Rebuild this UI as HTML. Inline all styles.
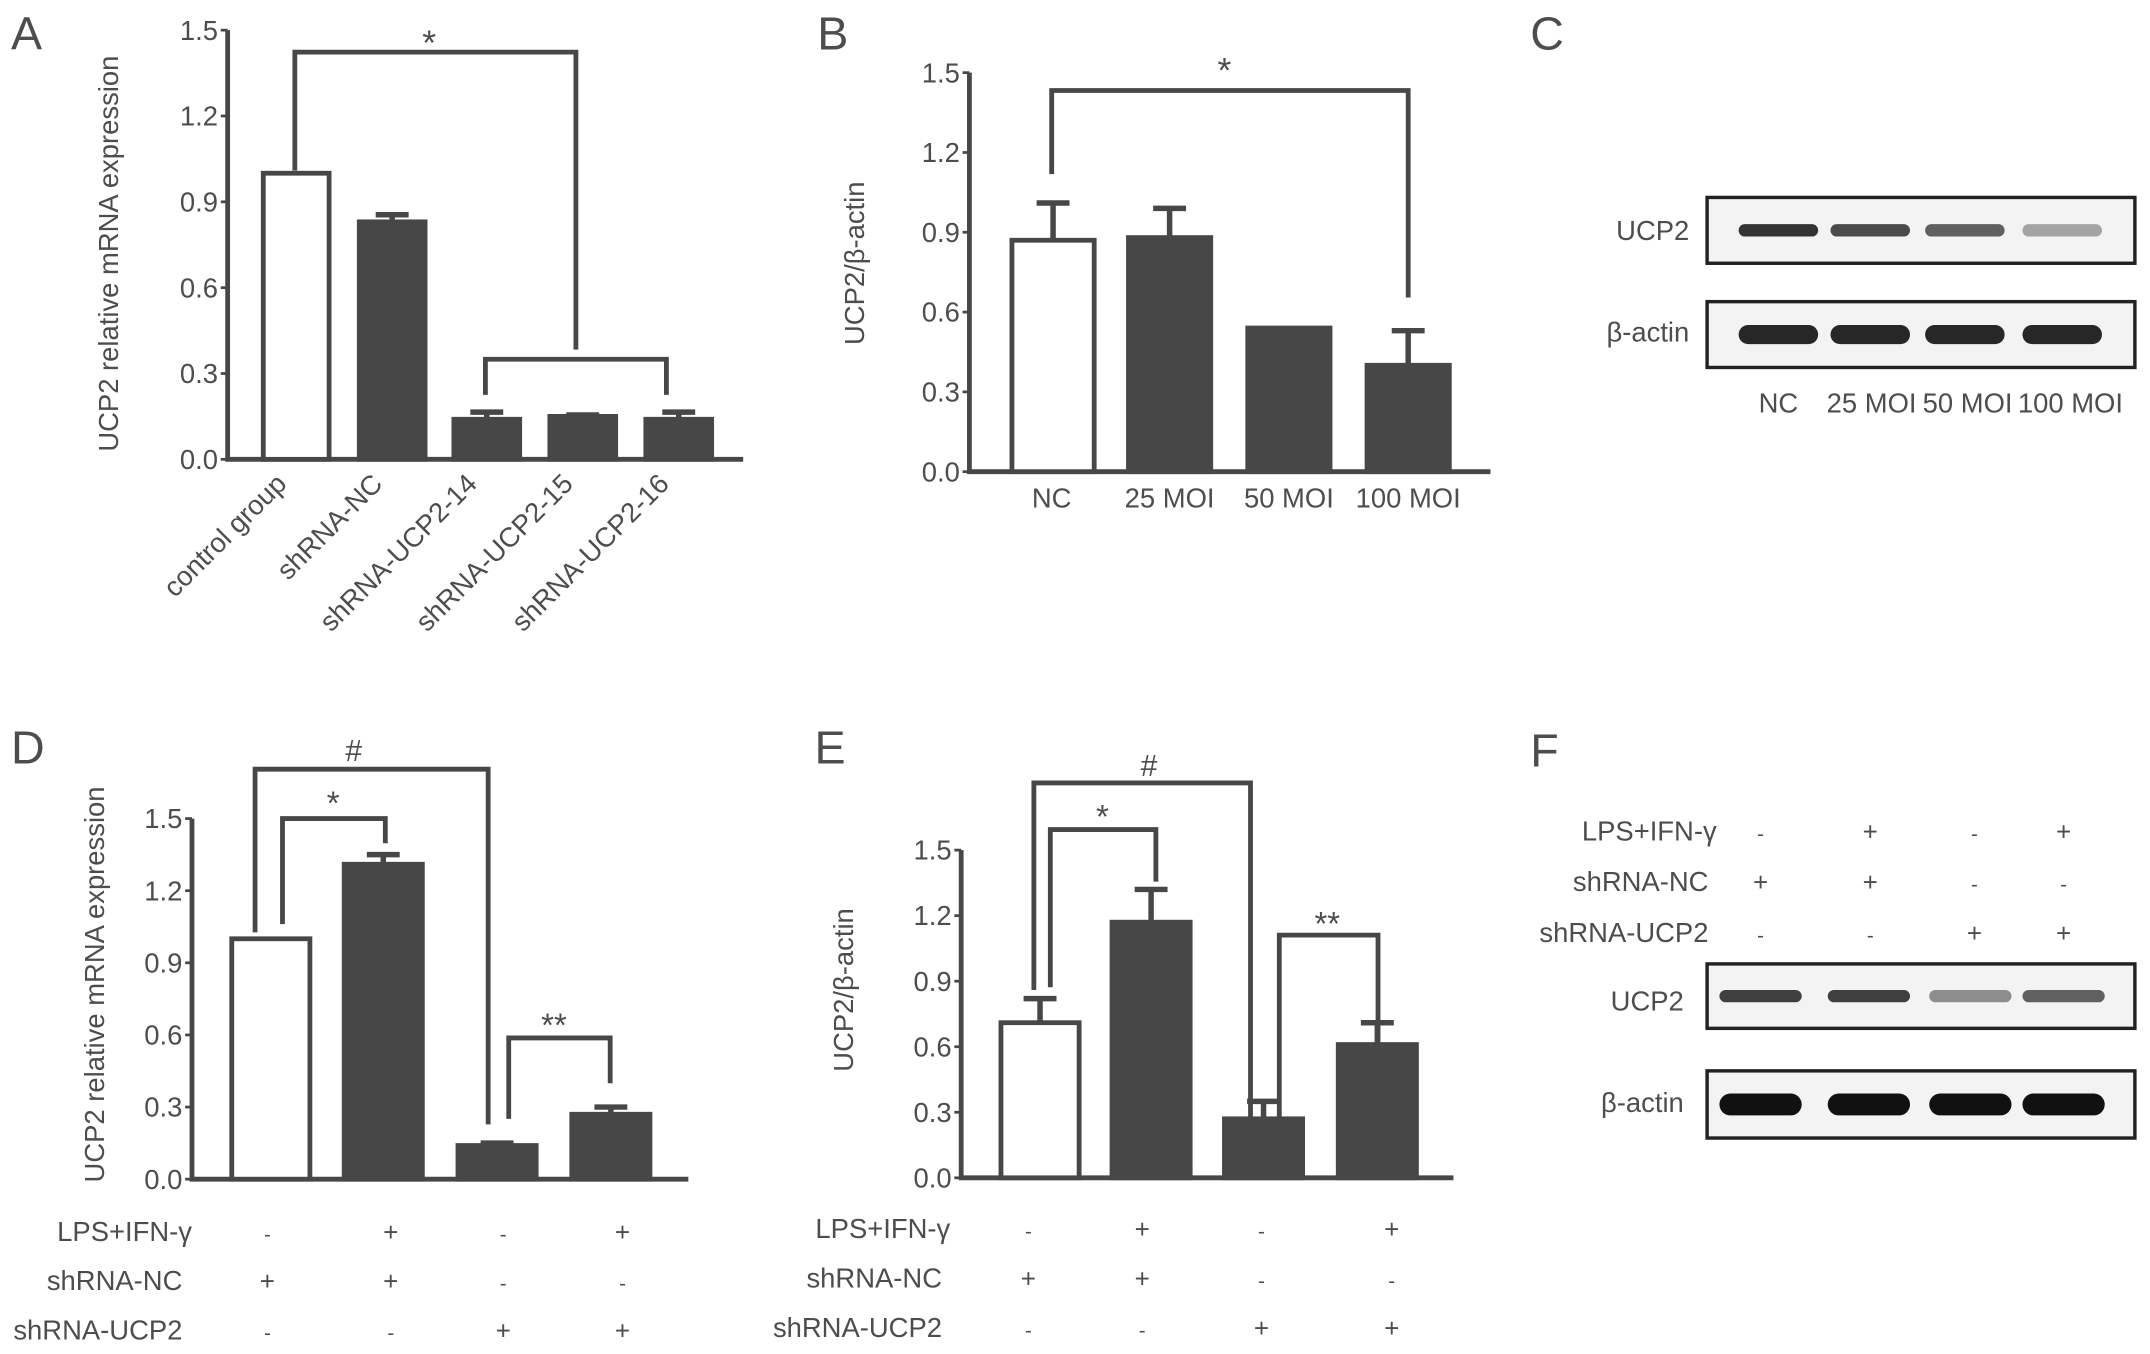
<!DOCTYPE html>
<html><head><meta charset="utf-8">
<style>
html,body{margin:0;padding:0;background:#fff;}
svg{display:block;}
text{font-family:"Liberation Sans Narrow","Liberation Sans",sans-serif;fill:#4d4d4d;}
.lbl{font-family:"Liberation Sans",sans-serif;}
</style></head>
<body>
<svg id="fig" width="2150" height="1354" viewBox="0 0 1568 987.5" xmlns="http://www.w3.org/2000/svg">
<rect x="0" y="0" width="1568" height="987.5" fill="#fff"/>
<g font-size="34" font-family="Liberation Sans">
<text x="8" y="36" class="lbl">A</text>
<text x="596" y="36" class="lbl">B</text>
<text x="1116" y="36" class="lbl">C</text>
<text x="8" y="557" class="lbl">D</text>
<text x="594" y="557" class="lbl">E</text>
<text x="1116" y="559" class="lbl">F</text>
</g>
</svg>
<script>
// ---- data ----
const ticks = ["0.0","0.3","0.6","0.9","1.2","1.5"];
const tickVals = [0,0.3,0.6,0.9,1.2,1.5];
const aCats = ["control group","shRNA-NC","shRNA-UCP2-14","shRNA-UCP2-15","shRNA-UCP2-16"];
const aVals = [1.0,0.83,0.14,0.15,0.14];
const aErr = [0,0.025,0.025,0.005,0.025];
const bCats = ["NC","25 MOI","50 MOI","100 MOI"];
const bVals = [0.87,0.88,0.54,0.40];
const bErr = [0.14,0.11,0,0.13];
const dVals = [1.0,1.31,0.14,0.27];
const dErr = [0,0.04,0.01,0.03];
const eVals = [0.71,1.17,0.27,0.61];
const eErr = [0.11,0.15,0.08,0.10];
const rowLabels = ["LPS+IFN-γ","shRNA-NC","shRNA-UCP2"];
const rowSigns = [["-","+","-","+"],["+","+","-","-"],["-","-","+","+"]];
const cLanes = ["NC","25 MOI","50 MOI","100 MOI"];
const cUcp2 = [0.85,0.75,0.65,0.35];
const cActin = [0.9,0.9,0.9,0.9];
const fUcp2 = [0.8,0.8,0.45,0.65];
const fActin = [1,1,1,1];

const NS="http://www.w3.org/2000/svg";
const svg=document.getElementById('fig');
const INK="#474747";
function mk(tag,attrs,parent){const e=document.createElementNS(NS,tag);for(const k in attrs)e.setAttribute(k,attrs[k]);(parent||svg).appendChild(e);return e;}
function txt(s,x,y,size,anchor,parent){const t=mk('text',{x:x,y:y,'font-size':size,'text-anchor':anchor||'middle'},parent);t.textContent=s;return t;}

function barChart(cfg){
  const g=mk('g',{});
  
  
  const yS=v=>cfg.y0-(v/1.5)*(cfg.y0-cfg.y15);
  const ax=mk('path',{d:`M${cfg.ax} ${cfg.y15} V${cfg.y0} H${cfg.axEnd}`,stroke:INK,'stroke-width':3.5,fill:'none'},g);
  
  
  tickVals.forEach((v,i)=>{
    mk('line',{x1:cfg.ax-5,x2:cfg.ax,y1:yS(v),y2:yS(v),stroke:INK,'stroke-width':2},g);
    const t=txt(ticks[i],cfg.ax-7,yS(v)+7,20,'end',g);
    
    
  });
  const yt=txt(cfg.ytitle,0,0,20,'middle',g);
  yt.setAttribute('class','lbl');
  yt.setAttribute('transform',`translate(${cfg.ytx},${cfg.yty}) rotate(-90)`);
  
  
  cfg.vals.forEach((v,i)=>{
    const x1=cfg.bx[i],x2=cfg.bx[i]+cfg.bw,cx=(x1+x2)/2;
    const top=yS(v);
    const open=i===0;
    const r=mk('rect',{x:x1,y:top,width:cfg.bw,height:cfg.y0-top,fill:open?'#fff':INK,stroke:INK,'stroke-width':3.5},g);
    
    
    if(cfg.err[i]>0){
      const et=yS(v+cfg.err[i]);
      const el=mk('path',{d:`M${cx} ${top} V${et} M${cx-12} ${et} H${cx+12}`,stroke:INK,'stroke-width':4,fill:'none'},g);
      
      
    }
  });
  return {g,yS};
}
function bracket(g,x1,y1,x2,y2,yTop,label,lx,ly,size){
  const p=mk('path',{d:`M${x1} ${y1} V${yTop} H${x2} V${y2}`,stroke:INK,'stroke-width':3.5,fill:'none'},g);
  
  
  const t=txt(label,lx,ly,size||24,'middle',g);
  
  
}
function signTable(g,labelX,rowsY,cols){
  rowLabels.forEach((l,r)=>{
    const t=txt(l,labelX[r],rowsY[r]+7,20,'end',g);
    
    
    rowSigns[r].forEach((s,c)=>{
      const u=txt(s,cols[c],rowsY[r]+7,s==='+'?19:15,'middle',g);
      
      
    });
  });
}
function blot(name,x,y,w,h,lanes,vals,bh,bw){
  const g=mk('g',{});
  
  
  const r=mk('rect',{x:x,y:y,width:w,height:h,fill:'#f3f3f3',stroke:'#222','stroke-width':2.5},g);
  
  
  vals.forEach((v,i)=>{
    const e=mk('rect',{x:lanes[i]-bw/2,y:y+h/2-bh/2,width:bw,height:bh,rx:bh/2,fill:'#111','fill-opacity':v},g);
    
    
  });
  return g;
}

// Panel A
{
  const c=barChart({name:'panel-a-chart',ax:166,axEnd:542,y0:335,y15:22,bx:[192,262,331,401,471],bw:48,
    vals:aVals,err:aErr,ytitle:'UCP2 relative mRNA expression',ytx:86,yty:185});
  bracket(c.g,215,c.yS(aVals[0])-2,420,255,38,'*',313,40,26);
  bracket(c.g,354,288,486,288,262,'',0,0);
  aCats.forEach((s,i)=>{
    const cx=[210,280,349,419,489][i];
    const t=txt(s,0,0,20,'end',c.g);
    t.setAttribute('class','lbl');
    t.setAttribute('transform',`translate(${cx},${354}) rotate(-45)`);
    
    
  });
}
// Panel B
{
  const c=barChart({name:'panel-b-chart',ax:707,axEnd:1087,y0:344,y15:53,bx:[738,823,910,997],bw:60,
    vals:bVals,err:bErr,ytitle:'UCP2/β-actin',ytx:630,yty:192});
  bracket(c.g,767,127,1027,217,66,'*',893,60,26);
  bCats.forEach((s,i)=>{
    const t=txt(s,[767,853,940,1027][i],370,20,'middle',c.g);
    t.setAttribute('class','lbl');
    
    
  });
}
// Panel C
{
  const lanes=[1297,1364,1433,1504];
  blot('panel-c-ucp2-blot',1245,144,312,48,lanes,cUcp2,9,58);
  blot('panel-c-actin-blot',1245,220,312,48,lanes,cActin,14,58);
  let t=txt('UCP2',1232,175,20,'end');t.setAttribute('class','lbl');
  t=txt('β-actin',1232,249,20,'end');t.setAttribute('class','lbl');
  cLanes.forEach((s,i)=>{const u=txt(s,[1297,1365,1435,1510][i],301,20,'middle');u.setAttribute('class','lbl');
    
    });
}
// Panel D
{
  const c=barChart({name:'panel-d-chart',ax:140,axEnd:502,y0:860,y15:597,bx:[169,251,334,417],bw:57,
    vals:dVals,err:dErr,ytitle:'UCP2 relative mRNA expression',ytx:76,yty:718});
  bracket(c.g,186,680,356,820,561,'#',258,555,22);
  bracket(c.g,206,674,281,615,597,'*',243,594,24);
  bracket(c.g,371,816,445,790,757,'**',404,756,24);
  signTable(c.g,[140,133,133],[898,934,970],[195,285,367,454]);
}
// Panel E
{
  const c=barChart({name:'panel-e-chart',ax:701,axEnd:1060,y0:859,y15:620,bx:[730,811,893,976],bw:57,
    vals:eVals,err:eErr,ytitle:'UCP2/β-actin',ytx:622,yty:722});
  bracket(c.g,754,722,912,843,571,'#',838,566,22);
  bracket(c.g,766,720,843,643,605,'*',804,604,24);
  bracket(c.g,933,843,1005,770,682,'**',968,682,24);
  signTable(c.g,[693,687,687],[896,932,968],[750,833,920,1015]);
}
// Panel F
{
  const g=mk('g',{});
  
  
  signTable(g,[1252,1246,1246],[606,643,680],[1284,1364,1440,1505]);
  const lanes=[1284,1363,1437,1505];
  blot('panel-f-ucp2-blot',1245,703,312,47,lanes,fUcp2,9,60);
  blot('panel-f-actin-blot',1245,781,312,49,lanes,fActin,16,60);
  let t=txt('UCP2',1228,737,20,'end');t.setAttribute('class','lbl');
  t=txt('β-actin',1228,811,20,'end');t.setAttribute('class','lbl');
}
</script>
</body></html>
